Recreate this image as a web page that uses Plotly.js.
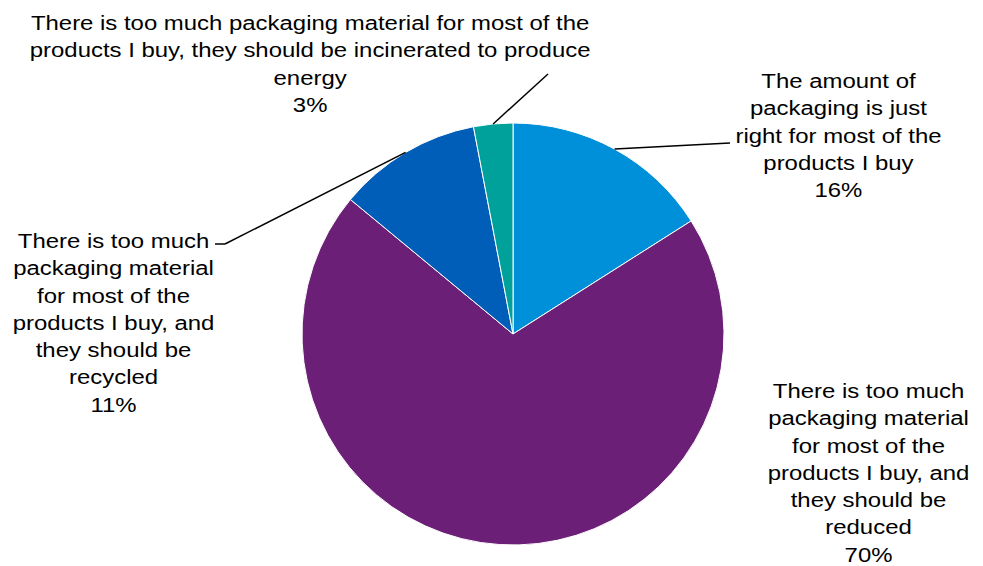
<!DOCTYPE html>
<html>
<head>
<meta charset="utf-8">
<script src="https://cdn.plot.ly/plotly-3.0.1.min.js"></script>
<style>
html,body{margin:0;padding:0;background:#fff}
#chart{width:983px;height:566px}
#chart text.annotation-text{transform:scaleX(1.14);transform-box:fill-box;transform-origin:center}
</style>
</head>
<body>
<div id="chart"></div>
<script>
var categories = [
  "The amount of<br>packaging is just<br>right for most of the<br>products I buy",
  "There is too much<br>packaging material<br>for most of the<br>products I buy, and<br>they should be<br>reduced",
  "There is too much<br>packaging material<br>for most of the<br>products I buy, and<br>they should be<br>recycled",
  "There is too much packaging material for most of the<br>products I buy, they should be incinerated to produce<br>energy"
];
var values = [16, 70, 11, 3];
var colors = ["#0090D9", "#6B1F76", "#005EB8", "#00A19A"];

// label block layout (pixel positions of text centre, leader end points)
var labelPos = [
  {x: 838, y: 135, lx: [730], ly: [143]},
  {x: 868, y: 472, lx: null, ly: null},
  {x: 113, y: 323, lx: [225, 215], ly: [244, 244]},
  {x: 310, y: 63, lx: [548], ly: [74]}
];

var W = 983, H = 566;
var cx = 513, cy = 334, R = 211;
function px(x){ return x / W; }
function py(y){ return 1 - y / H; }

var total = values.reduce(function(a,b){return a+b;}, 0);
var annotations = [], shapes = [];
var cum = 0;
for (var i = 0; i < values.length; i++) {
  var mid = (cum + values[i] / 2) / total * 2 * Math.PI;
  cum += values[i];
  var ex = cx + R * Math.sin(mid), ey = cy - R * Math.cos(mid);
  var p = labelPos[i];
  annotations.push({
    xref: 'paper', yref: 'paper', x: px(p.x), y: py(p.y),
    xanchor: 'center', yanchor: 'middle', align: 'center', showarrow: false,
    text: categories[i] + '<br>' + values[i] + '%',
    font: {family: 'Liberation Sans, Arial, sans-serif', size: 21, color: '#000'}
  });
  if (p.lx) {
    var sx = ex, sy = ey;
    for (var k = 0; k < p.lx.length; k++) {
      shapes.push({type: 'line', xref: 'paper', yref: 'paper',
        x0: px(sx), y0: py(sy), x1: px(p.lx[k]), y1: py(p.ly[k]),
        line: {color: '#000', width: 1.5}});
      sx = p.lx[k]; sy = p.ly[k];
    }
  }
}

var trace = {
  type: 'pie',
  values: values,
  labels: categories,
  sort: false,
  direction: 'clockwise',
  rotation: 0,
  textinfo: 'none',
  hoverinfo: 'none',
  marker: {colors: colors, line: {color: '#ffffff', width: 1}},
  domain: {x: [px(cx - R), px(cx + R)], y: [py(cy + R), py(cy - R)]},
  showlegend: false
};

var layout = {
  width: W, height: H,
  margin: {l: 0, r: 0, t: 0, b: 0},
  paper_bgcolor: '#ffffff',
  showlegend: false,
  annotations: annotations,
  shapes: shapes
};

Plotly.newPlot('chart', [trace], layout, {displayModeBar: false, staticPlot: true});
</script>
</body>
</html>
